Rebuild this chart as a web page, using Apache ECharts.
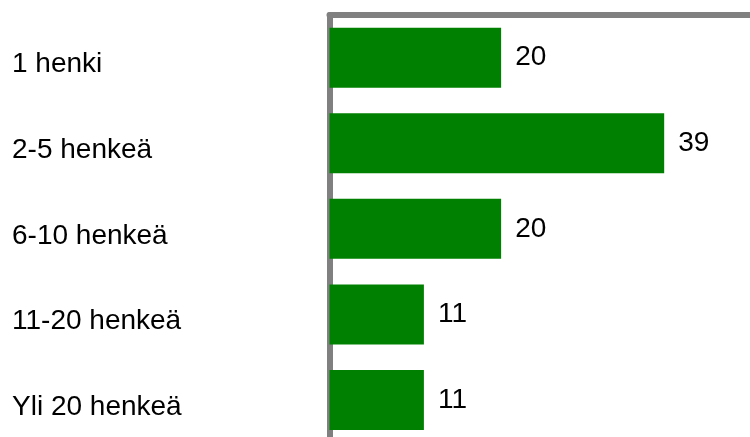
<!DOCTYPE html>
<html>
<head>
<meta charset="utf-8">
<script src="https://cdn.jsdelivr.net/npm/echarts@6/dist/echarts.min.js"></script>
<style>
html,body{margin:0;padding:0;background:#fff;}
#chart{width:750px;height:437px;}
</style>
</head>
<body>
<div id="chart"></div>
<script>
var categories = ["1 henki", "2-5 henkeä", "6-10 henkeä", "11-20 henkeä", "Yli 20 henkeä"];
var values = [20, 39, 20, 11, 11];

var chart = echarts.init(document.getElementById('chart'), null, {renderer: 'canvas'});
chart.setOption({
  animation: false,
  backgroundColor: '#ffffff',
  grid: {left: 329.5, right: 0, top: 15, height: 427.7, containLabel: false, outerBoundsMode: 'none'},
  xAxis: {
    type: 'value',
    position: 'top',
    min: 0,
    max: 49,
    axisLine: {show: true, onZero: false, lineStyle: {color: '#808080', width: 6}},
    axisTick: {show: false},
    axisLabel: {show: false},
    splitLine: {show: false}
  },
  yAxis: {
    type: 'category',
    inverse: true,
    data: categories,
    axisLine: {show: true, onZero: false, lineStyle: {color: '#808080', width: 6}},
    axisTick: {show: false},
    axisLabel: {
      show: true,
      align: 'left',
      margin: 317.5,
      formatter: function (v) { return '{c|' + v + '}'; },
      rich: {
        c: {
          fontFamily: 'Liberation Sans, Arial, sans-serif',
          fontSize: 28,
          color: '#000000',
          padding: [14, 0, 0, 0]
        }
      }
    },
    splitLine: {show: false}
  },
  series: [{
    type: 'bar',
    data: values,
    barWidth: 60,
    itemStyle: {color: '#008000'},
    label: {
      show: true,
      position: 'right',
      distance: 14,
      fontFamily: 'Liberation Sans, Arial, sans-serif',
      fontSize: 28,
      color: '#000000'
    }
  }]
});
</script>
</body>
</html>
